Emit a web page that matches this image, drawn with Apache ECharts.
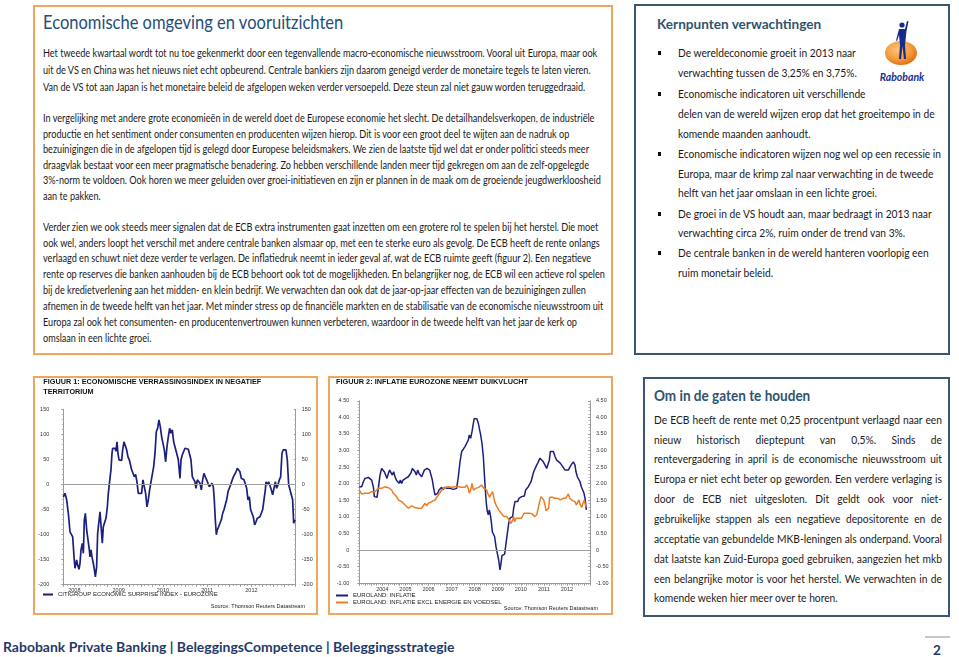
<!DOCTYPE html>
<html><head><meta charset="utf-8">
<script src="https://cdn.jsdelivr.net/npm/echarts/dist/echarts.min.js"></script>
<style>
html,body{margin:0;padding:0;background:#fff;width:959px;height:657px;overflow:hidden;font-family:Lato,'Open Sans',sans-serif;}
.box{position:absolute;box-sizing:border-box;}
.ln{position:absolute;white-space:nowrap;transform-origin:0 50%;color:#1a1a1a;}
#chart{position:absolute;left:0;top:0;width:959px;height:657px;}
</style></head>
<body>
<div class="box" style="left:33px;top:5px;width:580px;height:350px;border:2px solid #eea660;"></div>
<div class="box" style="left:634px;top:4px;width:316px;height:351px;border:2px solid #3b5573;"></div>
<div class="box" style="left:33px;top:376px;width:285px;height:239px;border:2px solid #eea660;"></div>
<div class="box" style="left:328px;top:376px;width:285px;height:239px;border:2px solid #eea660;"></div>
<div class="box" style="left:643px;top:377px;width:307px;height:240px;border:2px solid #3b5573;"></div>
<div class="box" style="left:925px;top:636px;width:25px;height:2px;background:#c8c8c8;"></div>
<svg style="position:absolute;left:870px;top:15px" width="70" height="75">
<defs><radialGradient id="rg" cx="0.4" cy="0.35" r="0.7"><stop offset="0" stop-color="#fbc77a"/><stop offset="0.6" stop-color="#f39a3a"/><stop offset="1" stop-color="#e06a12"/></radialGradient></defs>
<ellipse cx="31" cy="38" rx="16" ry="12" fill="url(#rg)"/>
<circle cx="32" cy="10" r="2.6" fill="#1a2a8a"/>
<path d="M29 14 L35 14 L37 6 L38.5 6.5 L36.5 16 L35 30 L36 44 L34 44 L32.5 31 L31 44 L29 44 L30 30 L29 20 L27 26 L26 25.5 Z" fill="#1a2a8a"/>
<text x="32" y="66" text-anchor="middle" font-family="Lato,'Liberation Sans',sans-serif" font-style="italic" font-weight="bold" font-size="10.5" fill="#1d2f8f">Rabobank</text>
</svg>
<div id="chart"></div>
<script>
// ---------- text content ----------
const mainTitle = 'Economische omgeving en vooruitzichten';
const mainP1 = [
 'Het tweede kwartaal wordt tot nu toe gekenmerkt door een tegenvallende macro-economische nieuwsstroom. Vooral uit Europa, maar ook',
 'uit de VS en China was het nieuws niet echt opbeurend. Centrale bankiers zijn daarom geneigd verder de monetaire tegels te laten vieren.',
 'Van de VS tot aan Japan is het monetaire beleid de afgelopen weken verder versoepeld. Deze steun zal niet gauw worden teruggedraaid.'];
const mainP2 = [
 'In vergelijking met andere grote economieën in de wereld doet de Europese economie het slecht. De detailhandelsverkopen, de industriële',
 'productie en het sentiment onder consumenten en producenten wijzen hierop. Dit is voor een groot deel te wijten aan de nadruk op',
 'bezuinigingen die in de afgelopen tijd is gelegd door Europese beleidsmakers. We zien de laatste tijd wel dat er onder politici steeds meer',
 'draagvlak bestaat voor een meer pragmatische benadering. Zo hebben verschillende landen meer tijd gekregen om aan de zelf-opgelegde',
 '3%-norm te voldoen. Ook horen we meer geluiden over groei-initiatieven en zijn er plannen in de maak om de groeiende jeugdwerkloosheid',
 'aan te pakken.'];
const mainP3 = [
 'Verder zien we ook steeds meer signalen dat de ECB extra instrumenten gaat inzetten om een grotere rol te spelen bij het herstel. Die moet',
 'ook wel, anders loopt het verschil met andere centrale banken alsmaar op, met een te sterke euro als gevolg. De ECB heeft de rente onlangs',
 'verlaagd en schuwt niet deze verder te verlagen. De inflatiedruk neemt in ieder geval af, wat de ECB ruimte geeft (figuur 2). Een negatieve',
 'rente op reserves die banken aanhouden bij de ECB behoort ook tot de mogelijkheden. En belangrijker nog, de ECB wil een actieve rol spelen',
 'bij de kredietverlening aan het midden- en klein bedrijf. We verwachten dan ook dat de jaar-op-jaar effecten van de bezuinigingen zullen',
 'afnemen in de tweede helft van het jaar. Met minder stress op de financiële markten en de stabilisatie van de economische nieuwsstroom uit',
 'Europa zal ook het consumenten- en producentenvertrouwen kunnen verbeteren, waardoor in de tweede helft van het jaar de kerk op',
 'omslaan in een lichte groei.'];
const kernTitle = 'Kernpunten verwachtingen';
const kernLines = [
 'De wereldeconomie groeit in 2013 naar',
 'verwachting tussen de 3,25% en 3,75%.',
 'Economische indicatoren uit verschillende',
 'delen van de wereld wijzen erop dat het groeitempo in de',
 'komende maanden aanhoudt.',
 'Economische indicatoren wijzen nog wel op een recessie in',
 'Europa, maar de krimp zal naar verwachting in de tweede',
 'helft van het jaar omslaan in een lichte groei.',
 'De groei in de VS houdt aan, maar bedraagt in 2013 naar',
 'verwachting circa 2%, ruim onder de trend van 3%.',
 'De centrale banken in de wereld hanteren voorlopig een',
 'ruim monetair beleid.'];
const kernBullets = [0, 2, 5, 8, 10];
const omTitle = 'Om in de gaten te houden';
const omLines = [
 'De ECB heeft de rente met 0,25 procentpunt verlaagd naar een',
 'nieuw historisch dieptepunt van 0,5%. Sinds de',
 'rentevergadering in april is de economische nieuwsstroom uit',
 'Europa er niet echt beter op geworden. Een verdere verlaging is',
 'door de ECB niet uitgesloten. Dit geldt ook voor niet-',
 'gebruikelijke stappen als een negatieve depositorente en de',
 'acceptatie van gebundelde MKB-leningen als onderpand. Vooral',
 'dat laatste kan Zuid-Europa goed gebruiken, aangezien het mkb',
 'een belangrijke motor is voor het herstel. We verwachten in de',
 'komende weken hier meer over te horen.'];
const footerText = 'Rabobank Private Banking | BeleggingsCompetence | Beleggingsstrategie';
const pageNo = '2';

// ---------- chart texts ----------
const fig1Title = ['FIGUUR 1: ECONOMISCHE VERRASSINGSINDEX IN NEGATIEF', 'TERRITORIUM'];
const fig2Title = 'FIGUUR 2: INFLATIE EUROZONE NEEMT DUIKVLUCHT';
const sourceText = 'Source: Thomson Reuters Datastream';
const cesiName = 'CITIGROUP ECONOMIC SURPRISE INDEX - EUROZONE';
const inflName = 'EUROLAND: INFLATIE';
const coreName = 'EUROLAND: INFLATIE EXCL ENERGIE EN VOEDSEL';

// ---------- data: Citigroup economic surprise index (decimal year, value) ----------
const cesiYears = [2008.25,2008.288,2008.326,2008.364,2008.401,2008.439,2008.462,2008.492,2008.514,2008.552,2008.575,2008.605,2008.627,2008.65,2008.68,2008.703,2008.725,2008.748,2008.778,2008.808,2008.838,2008.853,2008.876,2008.898,2008.928,2008.951,2008.974,2009.003,2009.026,2009.056,2009.079,2009.109,2009.131,2009.154,2009.184,2009.214,2009.245,2009.267,2009.304,2009.327,2009.35,2009.365,2009.395,2009.418,2009.44,2009.463,2009.485,2009.508,2009.538,2009.568,2009.591,2009.621,2009.651,2009.681,2009.711,2009.741,2009.771,2009.794,2009.824,2009.854,2009.884,2009.914,2009.944,2009.982,2010.019,2010.049,2010.08,2010.11,2010.14,2010.17,2010.2,2010.231,2010.261,2010.291,2010.321,2010.351,2010.381,2010.411,2010.442,2010.472,2010.502,2010.532,2010.562,2010.592,2010.622,2010.652,2010.682,2010.713,2010.743,
 2010.773,2010.811,2010.848,2010.886,2010.909,2010.939,2010.969,2010.999,2011.037,2011.074,2011.112,2011.134,2011.165,2011.195,2011.225,2011.247,2011.277,2011.308,2011.338,2011.368,2011.398,2011.428,2011.458,2011.488,2011.518,2011.549,2011.579,2011.609,2011.639,2011.661,2011.684,2011.707,2011.729,2011.759,2011.79,2011.82,2011.85,2011.88,2011.91,2011.94,2011.97,2012.0,2012.03,2012.061,2012.091,2012.121,2012.151,2012.181,2012.211,2012.241,2012.271,2012.301,2012.332,2012.362,2012.392,2012.422,2012.452,2012.482,2012.512,2012.542,2012.573,2012.603,2012.633,2012.663,2012.693,2012.723,2012.753,2012.783,2012.814,2012.829,2012.859,2012.889,2012.919,2012.949,2012.979,2013.009,2013.039,2013.07,2013.1,2013.13,2013.16,2013.19,2013.22,2013.25,2013.28,2013.31,2013.341,2013.371,2013.401,2013.431,2013.454,2013.484];
const cesiValues = [-25,-18,-31,-58,-95,-98,-105,-145,-168,-151,-162,-170,-158,-131,-118,-138,-71,-58,-91,-111,-131,-145,-131,-145,-158,-170,-185,-165,-98,-95,-55,-91,-118,-85,-81,-68,-45,-18,12,29,62,72,69,72,66,85,62,49,45,48,69,85,82,69,55,49,45,29,25,15,20,5,-18,-15,-18,9,-5,-18,-45,-31,-11,5,9,35,62,105,112,129,115,95,82,69,45,75,95,112,102,109,85,
 89,62,49,12,49,59,62,72,69,70,72,49,15,12,5,-8,9,12,2,-11,9,22,15,9,2,-5,-1,2,-5,-31,-71,-101,-91,-85,-85,-71,-58,-51,-55,-31,-15,-8,-1,-5,15,19,25,32,35,25,12,15,9,12,-8,-31,-25,-51,-58,-65,-81,-75,-68,-65,-65,-65,-51,-31,-11,5,-1,5,2,-11,-21,-8,5,-8,-1,9,15,62,69,72,69,49,-1,-11,-21,-31,-78,-71];

// ---------- data: Euroland inflation (decimal year, %) ----------
const inflYears = [2003.5,2003.545,2003.603,2003.675,2003.747,2003.819,2003.892,2003.964,2004.036,2004.108,2004.152,2004.21,2004.267,2004.325,2004.397,2004.469,2004.542,2004.585,2004.643,2004.701,2004.759,2004.816,2004.874,2004.932,2004.99,2005.048,2005.106,2005.163,2005.221,2005.279,2005.337,2005.395,2005.452,2005.51,2005.568,2005.626,2005.684,2005.741,2005.799,2005.857,2005.915,2005.973,2006.03,2006.088,2006.146,2006.204,2006.262,2006.319,2006.377,2006.435,2006.493,2006.551,2006.608,2006.666,2006.724,2006.782,2006.84,2006.897,2006.955,2007.013,2007.071,2007.129,2007.186,2007.244,2007.302,2007.36,
 2007.431,2007.503,2007.576,2007.648,2007.72,2007.792,2007.865,2007.937,2008.009,2008.081,2008.154,2008.226,2008.269,2008.327,2008.385,2008.443,2008.486,2008.544,2008.602,2008.659,2008.703,2008.76,2008.818,2008.876,2008.919,2008.963,2009.006,2009.049,2009.093,2009.136,2009.18,2009.223,2009.266,2009.31,2009.367,2009.425,2009.483,2009.541,2009.599,2009.642,2009.685,2009.743,2009.801,2009.859,2009.917,2009.974,2010.032,2010.09,2010.148,2010.191,2010.249,2010.307,2010.365,2010.422,2010.48,2010.538,2010.596,2010.654,2010.711,2010.769,2010.827,2010.885,2010.943,2011.0,2011.058,2011.116,
 2011.188,2011.261,2011.333,2011.405,2011.477,2011.55,2011.622,2011.694,2011.737,2011.781,2011.839,2011.911,2011.983,2012.055,2012.128,2012.2,2012.272,2012.344,2012.417,2012.489,2012.561,2012.633,2012.706,2012.778,2012.85,2012.893,2012.951,2013.009,2013.067,2013.125,2013.183,2013.24,2013.284,2013.341];
const inflValues = [1.91,1.94,1.91,2.06,2.16,2.16,2.19,2.13,2.11,1.91,1.61,1.56,1.59,1.86,2.26,2.46,2.41,2.36,2.31,2.16,2.31,2.41,2.46,2.26,2.36,2.21,2.11,2.16,2.01,2.11,2.01,2.11,2.06,2.16,2.13,2.21,2.16,2.33,2.46,2.46,2.36,2.26,2.41,2.31,2.26,2.21,2.31,2.41,2.46,2.46,2.46,2.41,2.36,2.11,1.86,1.66,1.61,1.71,1.81,1.86,1.89,1.81,1.89,1.91,1.86,1.91,
 1.86,1.81,1.83,1.81,1.86,2.21,2.66,2.97,3.04,3.12,3.22,3.32,3.47,3.37,3.57,3.82,3.97,3.99,3.95,3.82,3.67,3.47,3.22,2.82,2.31,1.81,1.41,1.16,1.06,1.21,1.06,0.85,0.55,0.50,0.40,0.10,-0.10,-0.30,-0.60,-0.40,-0.17,-0.22,-0.12,0.20,0.50,0.80,0.96,0.96,1.01,1.26,1.46,1.51,1.46,1.56,1.51,1.61,1.66,1.63,1.81,1.86,1.91,1.96,2.06,2.21,2.36,2.41,
 2.56,2.66,2.77,2.71,2.66,2.61,2.46,2.46,2.71,2.97,2.99,2.97,2.82,2.71,2.69,2.63,2.56,2.53,2.41,2.39,2.41,2.51,2.59,2.66,2.56,2.36,2.21,2.18,2.06,1.91,1.81,1.71,1.56,1.21];

// ---------- data: Euroland core inflation excl. energy and food ----------
const coreYears = [2003.5,2003.545,2003.603,2003.675,2003.747,2003.819,2003.892,2003.964,2004.036,2004.108,2004.181,2004.253,2004.325,2004.397,2004.469,2004.542,2004.614,2004.686,2004.759,2004.831,2004.903,2004.975,2005.048,2005.12,2005.192,2005.265,2005.337,2005.409,2005.481,2005.554,2005.626,2005.698,2005.77,2005.843,2005.915,2005.987,2006.059,2006.131,2006.204,2006.276,2006.348,2006.42,2006.493,2006.565,2006.637,2006.709,2006.782,2006.854,2006.926,2006.998,2007.071,2007.143,2007.215,2007.287,2007.36,
 2007.431,2007.503,2007.576,2007.648,2007.72,2007.792,2007.865,2007.937,2008.009,2008.081,2008.154,2008.226,2008.269,2008.327,2008.385,2008.443,2008.501,2008.558,2008.616,2008.674,2008.732,2008.789,2008.847,2008.905,2008.963,2009.021,2009.064,2009.107,2009.151,2009.194,2009.237,2009.281,2009.324,2009.367,2009.425,2009.483,2009.541,2009.599,2009.656,2009.714,2009.772,2009.83,2009.888,2009.945,2010.003,2010.061,2010.104,2010.148,2010.191,2010.234,2010.292,2010.35,2010.408,2010.466,2010.524,2010.581,2010.639,2010.697,2010.755,2010.813,2010.87,2010.928,2010.986,2011.044,2011.101,
 2011.188,2011.261,2011.318,2011.376,2011.434,2011.492,2011.55,2011.593,2011.651,2011.708,2011.752,2011.81,2011.867,2011.925,2011.983,2012.041,2012.099,2012.156,2012.214,2012.272,2012.33,2012.388,2012.445,2012.503,2012.561,2012.619,2012.677,2012.734,2012.792,2012.85,2012.908,2012.966,2013.023,2013.081,2013.139,2013.197,2013.255,2013.298,2013.341];
const coreValues = [1.81,1.76,1.69,1.66,1.71,1.76,1.71,1.66,1.76,1.81,1.76,1.81,1.86,1.89,1.86,1.91,1.91,1.86,1.88,1.86,1.81,1.71,1.66,1.61,1.51,1.56,1.46,1.51,1.36,1.31,1.26,1.31,1.33,1.31,1.28,1.31,1.26,1.23,1.26,1.31,1.41,1.33,1.41,1.38,1.46,1.41,1.51,1.56,1.66,1.73,1.81,1.86,1.89,1.86,1.91,
 1.86,1.89,1.86,1.91,1.89,1.91,1.86,1.89,1.93,1.89,1.96,1.86,1.71,1.81,2.01,1.81,1.76,1.86,1.91,1.89,1.91,1.96,1.91,1.86,1.81,1.81,1.71,1.66,1.59,1.66,1.61,1.76,1.61,1.46,1.36,1.31,1.21,1.16,1.11,1.06,1.01,0.96,1.01,0.96,0.90,0.80,0.75,0.90,1.01,0.85,0.96,0.90,0.96,1.01,0.96,1.03,1.11,1.16,1.11,1.09,1.11,1.06,1.09,1.05,1.01,
 1.06,1.01,1.46,1.61,1.56,1.51,1.36,1.19,1.21,1.26,1.59,1.61,1.59,1.61,1.56,1.51,1.56,1.56,1.51,1.56,1.56,1.53,1.56,1.61,1.69,1.56,1.51,1.49,1.43,1.46,1.36,1.41,1.51,1.36,1.29,1.41,1.51,1.36,1.31];

// ---------- page text layout ----------
function placeLine(text, x, y, size, o) {
  o = o || {};
  const d = document.createElement('div');
  d.className = 'ln';
  d.textContent = text;
  d.style.left = x + 'px';
  d.style.top = (y - size * 0.7) + 'px';
  d.style.lineHeight = (size * 1.4) + 'px';
  d.style.fontSize = size + 'px';
  if (o.weight) d.style.fontWeight = o.weight;
  if (o.color) d.style.color = o.color;
  document.body.insertBefore(d, document.getElementById('chart'));
  return d;
}
function fitTo(el, w) { const s = w / el.offsetWidth; el.style.transform = 'scaleX(' + s + ')'; return s; }
function scaleAll(els, s) { els.forEach(e => e.style.transform = 'scaleX(' + s + ')'); }

// main title + body
fitTo(placeLine(mainTitle, 43, 22, 19, {color: '#1f4e79'}), 300);
const mainEls = [];
mainP1.forEach((t, i) => mainEls.push(placeLine(t, 43, 53.3 + i * 17, 10.5)));
mainP2.forEach((t, i) => mainEls.push(placeLine(t, 43, 118.5 + i * 15.5, 10.5)));
mainP3.forEach((t, i) => mainEls.push(placeLine(t, 43, 227 + i * 15.86, 10.5)));
const sMain = 554 / mainEls[0].offsetWidth;
scaleAll(mainEls, sMain);

// Kernpunten
fitTo(placeLine(kernTitle, 657, 24, 14, {weight: 700, color: '#2e5470'}), 164);
const kernY = [53.3, 72.7, 94.3, 114.3, 134.3, 154.3, 174.3, 193.3, 214.3, 233.3, 253.3, 273.3];
const kernEls = kernLines.map((t, i) => placeLine(t, 678, kernY[i], 11.5));
scaleAll(kernEls, 257 / kernEls[3].offsetWidth);
kernBullets.forEach(i => {
  const b = document.createElement('div');
  b.style.cssText = 'position:absolute;width:3.5px;height:3.5px;background:#111;left:657.5px;top:' + (kernY[i] - 2) + 'px';
  document.body.appendChild(b);
});

// Om in de gaten te houden
fitTo(placeLine(omTitle, 654, 395.7, 14.5, {weight: 700, color: '#2e5470'}), 156);
const omY = [420, 439.6, 459.3, 479, 499.3, 519, 539, 559, 579, 598.5];
const omEls = omLines.map((t, i) => placeLine(t, 654, omY[i], 11.5));
const omMax = Math.max(...omEls.slice(0, 9).map(e => e.offsetWidth)) + 1;
const sOm = 288 / omMax;
omEls.forEach((e, i) => {
  if (i < 9) { e.style.whiteSpace = 'normal'; e.style.width = omMax + 'px'; e.style.textAlign = 'justify'; e.style.textAlignLast = 'justify'; }
  e.style.transform = 'scaleX(' + sOm + ')';
});

// footer
fitTo(placeLine(footerText, 3, 647, 13.5, {weight: 700, color: '#1f3a6a'}), 452);
placeLine(pageNo, 933, 650, 13.5, {weight: 700, color: '#1f3a6a'});

// ---------- ECharts ----------
const FONT = '"Liberation Sans", Arial, sans-serif';
const ctx = document.createElement('canvas').getContext('2d');
function tw(t, f) { ctx.font = f; return ctx.measureText(t).width; }
const titleFont = 'bold 7.5px ' + FONT;
const s1 = 218 / tw(fig1Title[0], titleFont);
const s2 = 192 / tw(fig2Title, titleFont);
const srcFont = '5.5px ' + FONT;

function yearLabel(lo, hi) {
  return v => { const f = v - Math.floor(v); return (Math.abs(f - 0.5) < 1e-6 && v > lo && v < hi) ? String(Math.floor(v)) : ''; };
}
const axisCol = '#9a9a9a';
function xAx(gi, min, max, lo, hi) {
  return { gridIndex: gi, type: 'value', min: min, max: max, interval: 0.25,
    axisLine: {show: true, onZero: false, lineStyle: {color: axisCol, width: 1}},
    axisTick: {show: true, length: 2.5, lineStyle: {color: axisCol}},
    minorTick: {show: true, splitNumber: 3, length: 1.5, lineStyle: {color: axisCol}},
    splitLine: {show: false},
    axisLabel: {formatter: yearLabel(lo, hi), fontSize: 5.5, color: '#333', margin: 3, fontFamily: FONT}};
}
function yAx(gi, pos, min, max, itv, fmt, margin) {
  return { gridIndex: gi, type: 'value', position: pos, min: min, max: max, interval: itv,
    axisLine: {show: true, lineStyle: {color: axisCol, width: 1}},
    axisTick: {show: true, length: 2, inside: pos === 'right', lineStyle: {color: axisCol}},
    minorTick: {show: true, splitNumber: 5, length: 1.5, lineStyle: {color: '#b5b5b5'}},
    splitLine: {show: false},
    axisLabel: {formatter: fmt, fontSize: 5.5, color: '#333', margin: margin, fontFamily: FONT}};
}
const fmt1 = v => String(v);
const fmt2 = v => v === 0 ? '0' : v.toFixed(2);
const zip = (xs, ys) => xs.map((x, i) => [x, ys[i]]);
const zeroLine = {silent: true, symbol: 'none', label: {show: false}, lineStyle: {color: '#a0a0a0', width: 1, type: 'solid'}, data: [{yAxis: 0}]};

const option = {
  animation: false,
  grid: [
    {left: 63.3, top: 409.3, width: 232.4, height: 175, containLabel: false, outerBoundsMode: 'none'},
    {left: 359.3, top: 400.8, width: 230.7, height: 182.4, containLabel: false, outerBoundsMode: 'none'}
  ],
  xAxis: [xAx(0, 2008.25, 2013.5, 2008, 2013), xAx(1, 2003.5, 2013.5, 2004, 2013)],
  yAxis: [
    yAx(0, 'left', -200, 150, 50, fmt1, 14), yAx(0, 'right', -200, 150, 50, fmt1, 6),
    yAx(1, 'left', -1, 4.5, 0.5, fmt2, 10), yAx(1, 'right', -1, 4.5, 0.5, fmt2, 6)
  ],
  legend: [
    {data: [cesiName], left: 43, top: 591.5, icon: 'rect', itemWidth: 10, itemHeight: 2, padding: 0,
     textStyle: {fontSize: 6, color: '#222', fontFamily: FONT}},
    {data: [inflName, coreName], left: 336, top: 592.5, orient: 'vertical', icon: 'rect', itemWidth: 12, itemHeight: 2, itemGap: 1, padding: 0,
     textStyle: {fontSize: 6, color: '#222', fontFamily: FONT}}
  ],
  graphic: [
    {type: 'text', x: 43.3, y: 382, scaleX: s1, style: {text: fig1Title[0], font: titleFont, fill: '#111', verticalAlign: 'middle'}},
    {type: 'text', x: 43.3, y: 392, scaleX: s1, style: {text: fig1Title[1], font: titleFont, fill: '#111', verticalAlign: 'middle'}},
    {type: 'text', x: 336, y: 382, scaleX: s2, style: {text: fig2Title, font: titleFont, fill: '#111', verticalAlign: 'middle'}},
    {type: 'text', x: 305, y: 606, style: {text: sourceText, font: srcFont, fill: '#222', align: 'right', verticalAlign: 'middle'}},
    {type: 'text', x: 598, y: 608.3, style: {text: sourceText, font: srcFont, fill: '#222', align: 'right', verticalAlign: 'middle'}}
  ],
  series: [
    {name: cesiName, type: 'line', xAxisIndex: 0, yAxisIndex: 0, data: zip(cesiYears, cesiValues), showSymbol: false, symbol: 'none',
     lineStyle: {color: '#1c1f7c', width: 1.7}, itemStyle: {color: '#1c1f7c'}, markLine: zeroLine, z: 3},
    {name: inflName, type: 'line', xAxisIndex: 1, yAxisIndex: 2, data: zip(inflYears, inflValues), showSymbol: false, symbol: 'none',
     lineStyle: {color: '#1c1f7c', width: 1.5}, itemStyle: {color: '#1c1f7c'}, markLine: zeroLine, z: 3},
    {name: coreName, type: 'line', xAxisIndex: 1, yAxisIndex: 2, data: zip(coreYears, coreValues), showSymbol: false, symbol: 'none',
     lineStyle: {color: '#ee7d22', width: 1.5}, itemStyle: {color: '#ee7d22'}, z: 4}
  ]
};
const chart = echarts.init(document.getElementById('chart'), null, {renderer: 'canvas'});
chart.setOption(option);
</script>
</body></html>
